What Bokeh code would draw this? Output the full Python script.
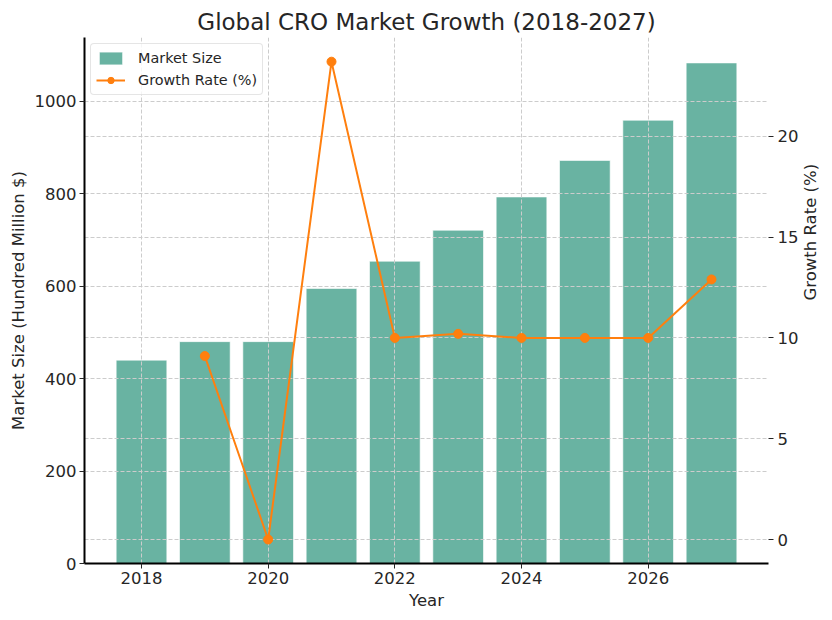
import math
from bokeh.plotting import figure
from bokeh.models import Range1d, LinearAxis, FixedTicker, Grid
from bokeh.embed import file_html
from bokeh.resources import INLINE

# data
years = [2018, 2019, 2020, 2021, 2022, 2023, 2024, 2025, 2026, 2027]
market_size = [440, 480, 480, 595, 654, 721, 793, 872, 959, 1083]
growth_years = [2019, 2020, 2021, 2022, 2023, 2024, 2025, 2026, 2027]
growth_rate = [9.1, 0.0, 23.7, 10.0, 10.2, 10.0, 10.0, 10.0, 12.9]

x_ticks = [2018, 2020, 2022, 2024, 2026]
left_ticks = [0, 200, 400, 600, 800, 1000]
right_ticks = [0, 5, 10, 15, 20]

FONT = "DejaVu Sans"
TXT = "#262626"
GRID = "#cccccc"

p = figure(
    width=832, height=612,
    x_range=Range1d(2017.1, 2027.9),
    y_range=Range1d(0, 1138),
    output_backend="svg",
    toolbar_location=None,
    min_border_left=84, min_border_right=62,
    min_border_top=37, min_border_bottom=48,
)
p.outline_line_color = None
p.background_fill_color = "white"

p.title.text = "Global CRO Market Growth (2018-2027)"
p.title.text_font = FONT
p.title.text_font_size = "23px"
p.title.text_font_style = "normal"
p.title.text_color = TXT
p.title.align = "center"
p.title.standoff = 5

p.extra_y_ranges = {"growth": Range1d(-1.19, 24.9)}

bars = p.vbar(x=years, top=market_size, width=0.8, fill_color="#69b3a2",
              line_color="white", line_alpha=0.6, line_width=1,
              legend_label="Market Size")
bars.level = "image"

p.line(growth_years, growth_rate, y_range_name="growth", line_color="#ff7f0e",
       line_width=2, legend_label="Growth Rate (%)")
p.scatter(growth_years, growth_rate, y_range_name="growth", size=9,
          fill_color="#ff7f0e", line_color="#ff7f0e",
          legend_label="Growth Rate (%)")

right = LinearAxis(y_range_name="growth", axis_label="Growth Rate (%)")
p.add_layout(right, "right")

p.xaxis.ticker = FixedTicker(ticks=x_ticks)
p.yaxis[0].ticker = FixedTicker(ticks=left_ticks)
right.ticker = FixedTicker(ticks=right_ticks)
right.axis_line_color = None

p.xaxis.axis_label = "Year"
p.yaxis[0].axis_label = "Market Size (Hundred Million $)"

for ax in [p.xaxis[0], p.yaxis[0], right]:
    ax.axis_label_text_font = FONT
    ax.axis_label_text_font_size = "16.5px"
    ax.axis_label_text_font_style = "normal"
    ax.axis_label_text_color = TXT
    ax.major_label_text_font = FONT
    ax.major_label_text_font_size = "16.5px"
    ax.major_label_text_color = TXT
    ax.major_tick_in = 0
    ax.major_tick_out = 5
    ax.major_tick_line_color = TXT
    ax.minor_tick_line_color = None
    ax.major_label_standoff = 3
    ax.axis_label_standoff = 4
right.major_label_standoff = 4
right.axis_label_standoff = 9
right.axis_label_orientation = math.pi / 2
p.xaxis.axis_line_width = 2
p.xaxis.axis_line_color = "black"
p.yaxis[0].axis_line_width = 2
p.yaxis[0].axis_line_color = "black"

# grids: x, left y, right y
p.xgrid.grid_line_color = GRID
p.xgrid.grid_line_dash = "4 2"
p.ygrid.grid_line_color = GRID
p.ygrid.grid_line_dash = "4 2"
g2 = Grid(dimension=1, ticker=right.ticker, y_range_name="growth",
          grid_line_color=GRID, grid_line_dash="4 2")
p.add_layout(g2)

p.legend.location = "top_left"
p.legend.margin = 6
p.legend.padding = 5
p.legend.spacing = 4
p.legend.glyph_width = 29
p.legend.glyph_height = 16
p.legend.label_height = 18
p.legend.label_standoff = 13
p.legend.label_text_font = FONT
p.legend.label_text_font_size = "14.4px"
p.legend.label_text_color = TXT
p.legend.border_line_color = "#cccccc"
p.legend.border_radius = 4
p.legend.background_fill_alpha = 0.8

open("out.html", "w").write(file_html(p, INLINE))
